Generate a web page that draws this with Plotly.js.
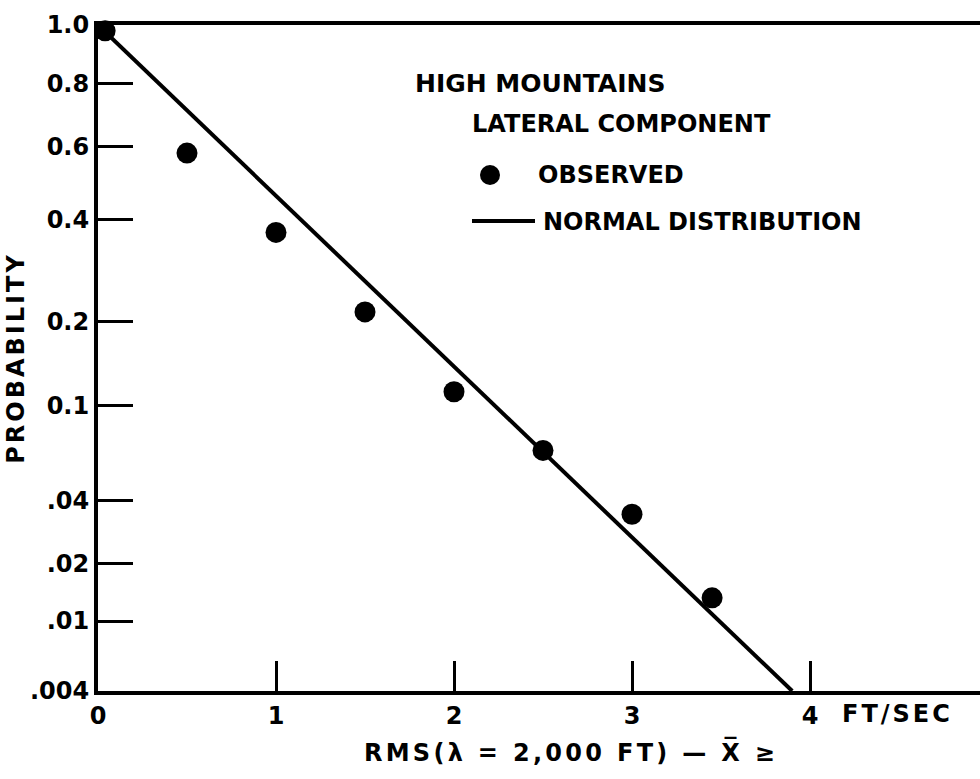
<!DOCTYPE html>
<html>
<head>
<meta charset="utf-8">
<script src="https://cdn.plot.ly/plotly-3.0.1.min.js"></script>
<style>
html,body{margin:0;padding:0;background:#fff;overflow:hidden;}
#wrap{width:980px;height:779px;overflow:hidden;position:relative;}
</style>
</head>
<body>
<div id="wrap"><div id="chart"></div></div>
<script>
// ---- data ----
const obsX = [0.04, 0.5, 1.0, 1.5, 2.0, 2.5, 3.0, 3.45];
const obsP = [0.98, 0.58, 0.37, 0.215, 0.113, 0.066, 0.0345, 0.0133];
const normX = [0, 3.9];
const normP = [1.0, 0.004];
const yTickProbs = [1.0, 0.8, 0.6, 0.4, 0.2, 0.1, 0.04, 0.02, 0.01, 0.004];
const yTickText = ['1.0', '0.8', '0.6', '0.4', '0.2', '0.1', '.04', '.02', '.01', '.004'];
const xTickVals = [0, 1, 2, 3, 4];
const xTickText = ['0', '1', '2', '3', '4'];

// inverse standard normal CDF (Acklam)
function normInv(p){
  const a=[-3.969683028665376e+01,2.209460984245205e+02,-2.759285104469687e+02,1.383577518672690e+02,-3.066479806614716e+01,2.506628277459239e+00];
  const b=[-5.447609879822406e+01,1.615858368580409e+02,-1.556989798598866e+02,6.680131188771972e+01,-1.328068155288572e+01];
  const c=[-7.784894002430293e-03,-3.223964580411365e-01,-2.400758277161838e+00,-2.549732539343734e+00,4.374664141464968e+00,2.938163982698783e+00];
  const d=[7.784695709041462e-03,3.224671290700398e-01,2.445134137142996e+00,3.754408661907416e+00];
  const pl=0.02425, ph=1-pl; let q,r;
  if(p<pl){q=Math.sqrt(-2*Math.log(p));return (((((c[0]*q+c[1])*q+c[2])*q+c[3])*q+c[4])*q+c[5])/((((d[0]*q+d[1])*q+d[2])*q+d[3])*q+1);}
  if(p<=ph){q=p-0.5;r=q*q;return (((((a[0]*r+a[1])*r+a[2])*r+a[3])*r+a[4])*r+a[5])*q/(((((b[0]*r+b[1])*r+b[2])*r+b[3])*r+b[4])*r+1);}
  q=Math.sqrt(-2*Math.log(1-p));return -(((((c[0]*q+c[1])*q+c[2])*q+c[3])*q+c[4])*q+c[5])/((((d[0]*q+d[1])*q+d[2])*q+d[3])*q+1);
}
// half-normal probability scale: exceedance probability -> axis coordinate
function pscale(p){ return -normInv(1 - p/2); }

const FONT = 'DejaVu Sans';
// the drawing runs past the right edge of the 980px view, as in the cropped scan
const W = 1044, H = 779, L = 98, R = 0, T = 25, B = 88;
const pw = W - L - R, ph = H - T - B;
const PX_PER_UNIT = 178;
function px(x){ return (x - L) / pw; }
function py(y){ return (H - B - y) / ph; }

const traces = [
  {
    x: normX, y: normP.map(pscale), mode: 'lines', name: 'NORMAL DISTRIBUTION',
    line: {color: '#000', width: 4}, showlegend: false, hoverinfo: 'skip'
  },
  {
    x: obsX, y: obsP.map(pscale), mode: 'markers', name: 'OBSERVED',
    marker: {color: '#000', size: 21}, showlegend: false, cliponaxis: false
  }
];

const txt = (s, x, y, size) => ({
  text: s, xref: 'paper', yref: 'paper', x: px(x), y: py(y),
  xanchor: 'left', yanchor: 'middle', showarrow: false,
  font: {family: FONT, size: size || 24, color: '#000', weight: 700}
});

const layout = {
  width: W, height: H,
  margin: {l: L, r: R, t: T, b: B, pad: 0},
  paper_bgcolor: '#fff', plot_bgcolor: '#fff',
  font: {family: FONT, color: '#000', weight: 700},
  xaxis: {
    range: [0, pw / PX_PER_UNIT],
    tickvals: xTickVals, ticktext: xTickText,
    ticks: 'inside', ticklen: 30, tickwidth: 3, tickcolor: '#000',
    showline: true, linewidth: 4, linecolor: '#000', mirror: true,
    showgrid: false, zeroline: false, ticklabelstandoff: 0,
    tickfont: {family: FONT, size: 24, color: '#000', weight: 700},
    title: {text: '<span style="letter-spacing:3.3px">RMS(\u03bb = 2,000 FT) \u2014 X\u0305 \u2265</span>', standoff: 16,
      font: {family: FONT, size: 24, color: '#000', weight: 700}}
  },
  yaxis: {
    range: [pscale(0.004), 0],
    tickvals: yTickProbs.map(pscale), ticktext: yTickText,
    ticks: 'inside', ticklen: 35, tickwidth: 3, tickcolor: '#000',
    showline: true, linewidth: 4, linecolor: '#000',
    showgrid: false, zeroline: false, ticklabelstandoff: 0,
    tickfont: {family: FONT, size: 24, color: '#000', weight: 700},
    title: {text: '<span style="letter-spacing:3px">PROBABILITY</span>', standoff: 0,
      font: {family: FONT, size: 24, color: '#000', weight: 700}}
  },
  shapes: [
    {type: 'line', xref: 'paper', yref: 'paper', x0: px(472), x1: px(535), y0: py(221), y1: py(221),
      line: {color: '#000', width: 4}},
    {type: 'circle', xref: 'paper', yref: 'paper', xsizemode: 'pixel', ysizemode: 'pixel',
      xanchor: px(490), yanchor: py(175), x0: -10, x1: 10, y0: -10, y1: 10,
      fillcolor: '#000', line: {color: '#000', width: 0}}
  ],
  annotations: [
    txt('HIGH MOUNTAINS', 413, 83, 25),
    txt('LATERAL COMPONENT', 470, 124),
    txt('OBSERVED', 536, 175),
    txt('NORMAL DISTRIBUTION', 541, 222),
    {text: '<span style="letter-spacing:3px">FT/SEC</span>', xref: 'x', yref: 'paper', x: 4, y: py(714), xshift: 30,
      xanchor: 'left', yanchor: 'middle', showarrow: false,
      font: {family: FONT, size: 24, color: '#000', weight: 700}}
  ]
};

Plotly.newPlot('chart', traces, layout, {displayModeBar: false, responsive: false});
</script>
</body>
</html>
